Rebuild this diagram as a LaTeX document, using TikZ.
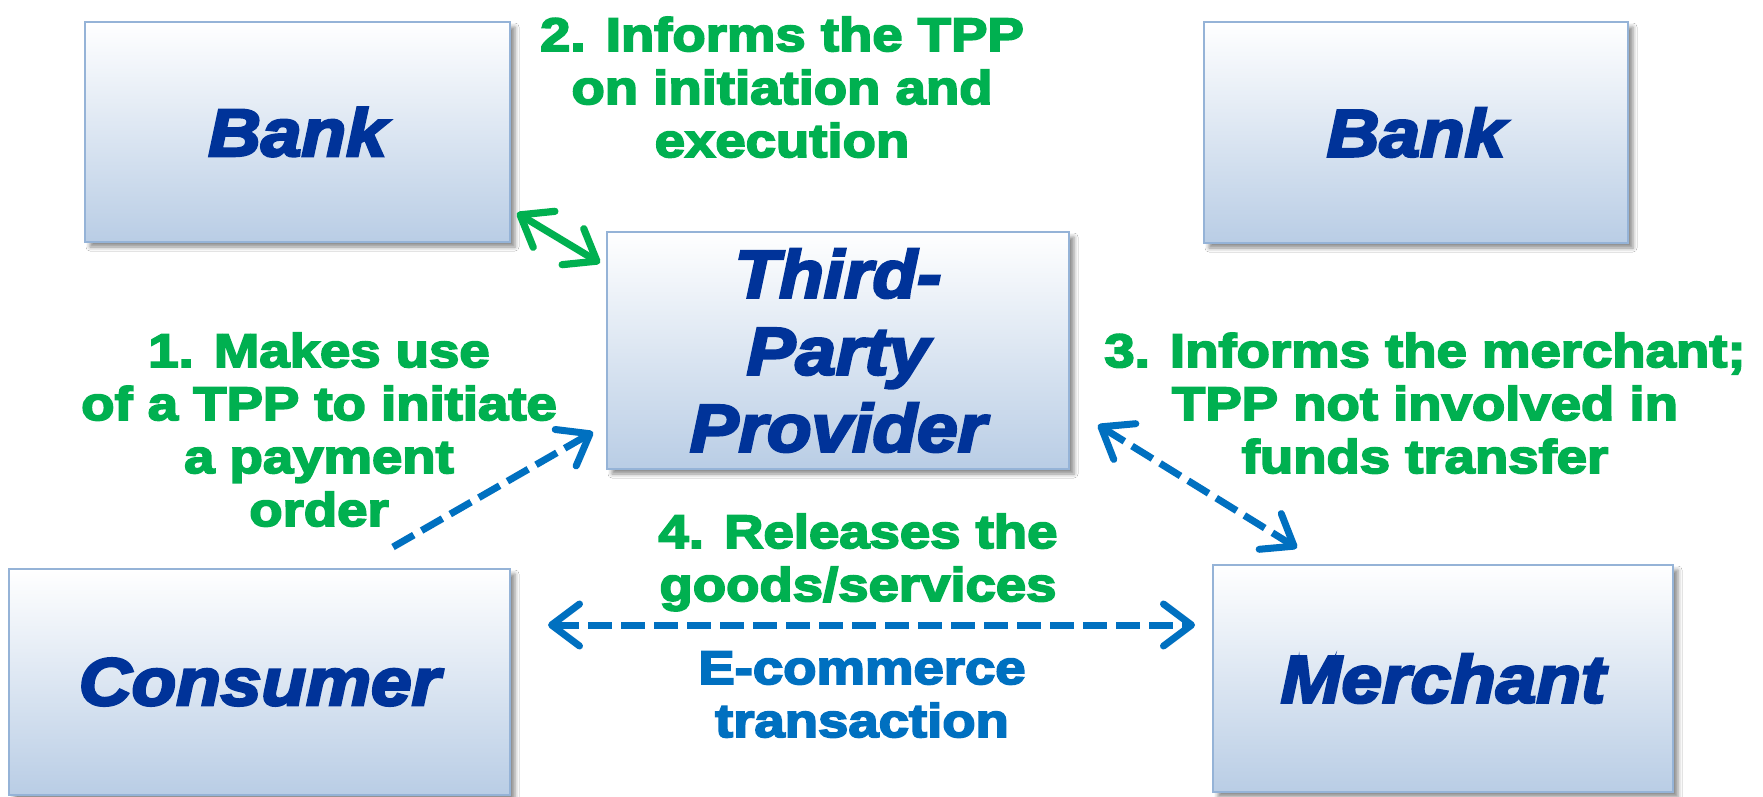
\documentclass[tikz,border=0pt]{standalone}
\usepackage{fontspec}
\setmainfont{Liberation Sans}
\newfontfamily\heavy{Liberation Sans}[BoldFeatures={FakeBold=4,FakeStretch=1.16},BoldItalicFeatures={FakeBold=4,FakeStretch=1.09}]
\usetikzlibrary{arrows.meta,shadows.blur}
\definecolor{tgreen}{HTML}{00B050}
\definecolor{tblue}{HTML}{0070C0}
\definecolor{tdark}{HTML}{003399}
\definecolor{tborder}{HTML}{95B3D7}
\definecolor{tfill}{HTML}{B9CDE5}
\begin{document}
\begin{tikzpicture}[x=0.5pt,y=-0.5pt,
  box/.style={draw=tborder, line width=1.3pt, top color=white, bottom color=tfill,
    blur shadow={shadow xshift=2.5pt,shadow yshift=-2.5pt,shadow blur radius=2pt,shadow opacity=45},
    inner sep=0pt, text=tdark, align=center,
    font=\heavy\bfseries\itshape\fontsize{33.5}{38.5}\selectfont},
  glabel/.style={text=tgreen, font=\heavy\bfseries\fontsize{23.5}{26.5}\selectfont,
    align=center, inner sep=0pt, anchor=base},
  blabel/.style={glabel, text=tblue},
  >={Straight Barb[length=14pt,width=21pt,round]},
  bluearrow/.style={draw=tblue, line width=3.5pt, dash pattern=on 12pt off 4.5pt},
  greenarrow/.style={draw=tgreen, line width=3.6pt, line cap=round}
]
\useasboundingbox (0,0) rectangle (1763,797);
\fill[white] (0,0) rectangle (1763,797);

\node[box, minimum width=212.5pt, minimum height=110pt] (bankL) at (297.5,132) {Bank};
\node[box, minimum width=212pt, minimum height=110.5pt] (bankR) at (1416,132.5) {Bank};
\node[box, minimum width=231pt, minimum height=118.5pt] (tpp) at (838,350.5) {Third-\\Party\\Provider};
\node[box, minimum width=250.5pt, minimum height=113pt] (consumer) at (259.5,682) {Consumer};
\node[box, minimum width=230pt, minimum height=113.5pt] (merchant) at (1443,678.5) {Merchant};

% anchor=base of a multi-line node sits on its last line
\node[glabel] (t2) at (782,157) {2. Informs the TPP\\on initiation and\\execution};
\node[glabel] (t1) at (319,526) {1. Makes use\\of a TPP to initiate\\a payment\\order};
\node[glabel] (t3) at (1425,473) {3. Informs the merchant;\\TPP not involved in\\funds transfer};
\node[glabel] (t4) at (858,601) {4. Releases the\\goods/services};
\node[blabel] (ecom) at (862,737) {E-commerce\\transaction};

\coordinate (g1) at (517,213);
\coordinate (g2) at (600,263);
\coordinate (c1) at (393,547);
\coordinate (c2) at (593,432);
\coordinate (m1) at (1098,425);
\coordinate (m2) at (1297,548);
\coordinate (h1) at (548,625);
\coordinate (h2) at (1195,625);

\draw[greenarrow,<->] (g1) -- (g2);
\draw[bluearrow,->] (c1) -- (c2);
\draw[bluearrow,<->] (m1) -- (m2);
\draw[bluearrow,<->] (h1) -- (h2);
\end{tikzpicture}
\end{document}
